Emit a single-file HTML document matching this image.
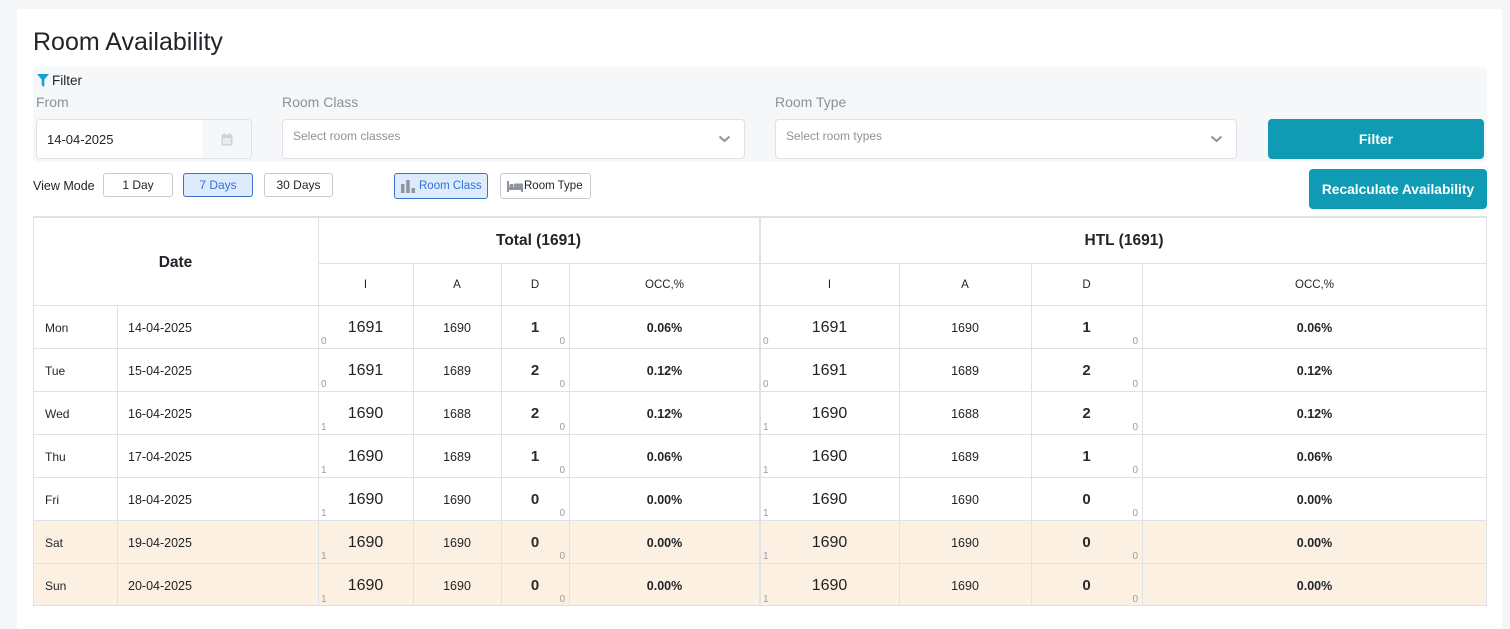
<!DOCTYPE html>
<html><head><meta charset="utf-8">
<style>
*{box-sizing:border-box}
body{margin:0;width:1510px;height:619px;background:#f5f6f8;position:relative;overflow:hidden;font-family:"Liberation Sans",Arial,sans-serif;color:#212529}
.a{position:absolute;white-space:nowrap}
.bx{position:absolute;display:flex;align-items:center;justify-content:center;white-space:nowrap}
.hl{position:absolute;height:1px;background:#dee2e6}
.vl{position:absolute;width:1px;background:#dee2e6}
.lbl{position:absolute;font-size:14px;line-height:20px;height:20px;color:#8c9196}
.btn{position:absolute;height:24px;top:173px;border:1px solid #c6cbd1;border-radius:3px;background:#fff;font-size:12px;display:flex;align-items:center;justify-content:center;color:#212529}
.teal{position:absolute;background:#109bb5;border-radius:4px;color:#fff;font-weight:bold;font-size:14px;display:flex;align-items:center;justify-content:center}
.row{position:absolute;left:0;width:1510px;height:43px}
.c{position:absolute;top:0;height:43px;display:flex;align-items:center;justify-content:center;white-space:nowrap}
.dy{left:33px;width:84px;justify-content:flex-start;padding-left:12px;font-size:12px}
.dt{left:117px;width:201px;justify-content:flex-start;padding-left:11px;font-size:12.5px}
.i1{left:318px;width:95px}.a1{left:413px;width:88px}.d1{left:501px;width:68px}.o1{left:569px;width:191px}
.i2{left:760px;width:139px}.a2{left:899px;width:132px}.d2{left:1031px;width:111px}.o2{left:1142px;width:345px}
.big{font-size:16px;color:#222}
.sm{font-size:12.5px}
.bd{font-size:15px;font-weight:bold;color:#2b2b2b}
.oc{font-size:12.5px;font-weight:bold}
.l,.r{position:absolute;font-size:10px;line-height:10px;bottom:2px;color:#999da1;font-weight:normal}
.l{left:3px}.r{right:4px}
.sh{position:absolute;top:263px;height:43px;display:flex;align-items:center;justify-content:center;font-size:11.5px}
</style></head><body>
<div class="a" style="left:17px;top:9px;width:1485px;height:620px;background:#fff"></div>

<div class="a" style="left:33px;top:27px;font-size:25px;line-height:30px;color:#212529">Room Availability</div>

<!-- filter panel -->
<div class="a" style="left:33px;top:67px;width:1454px;height:95px;background:#f6f7f9;border-radius:4px"></div>
<svg class="a" style="left:37px;top:74px" width="12" height="13" viewBox="0 0 12 13"><path d="M0 0H12L7.3 5.6V13L4.7 11.2V5.6Z" fill="#17a0d6"/></svg>
<div class="a" style="left:52px;top:71px;font-size:13.5px;line-height:20px;color:#212529">Filter</div>

<div class="lbl" style="left:36px;top:92px">From</div>
<div class="lbl" style="left:282px;top:92px">Room Class</div>
<div class="lbl" style="left:775px;top:92px">Room Type</div>

<!-- date input -->
<div class="a" style="left:36px;top:119px;width:216px;height:40px;border:1px solid #dee2e6;border-radius:4px;background:#f6f7f9;overflow:hidden">
  <div class="a" style="left:0;top:0;width:165px;height:38px;background:#fff"></div>
</div>
<div class="bx" style="left:47px;top:129px;height:20px;font-size:13px;color:#212529">14-04-2025</div>
<svg class="a" style="left:221px;top:133px" width="12" height="13" viewBox="0 0 12 13"><rect x="0.5" y="1.5" width="11" height="11" rx="1.5" fill="#cfd3d7"/><rect x="2" y="5" width="8" height="6" fill="#e9ebee"/><rect x="2.5" y="0" width="1.5" height="3" fill="#cfd3d7"/><rect x="8" y="0" width="1.5" height="3" fill="#cfd3d7"/></svg>

<!-- selects -->
<div class="a" style="left:282px;top:119px;width:463px;height:40px;border:1px solid #dee2e6;border-radius:4px;background:#fff"></div>
<div class="a" style="left:293px;top:126px;font-size:12px;line-height:20px;color:#8e9398">Select room classes</div>
<svg class="a" style="left:718px;top:135px" width="13" height="8" viewBox="0 0 13 8"><path d="M1.5 1.5L6.5 6L11.5 1.5" stroke="#8f959b" stroke-width="2" fill="none"/></svg>

<div class="a" style="left:775px;top:119px;width:462px;height:40px;border:1px solid #dee2e6;border-radius:4px;background:#fff"></div>
<div class="a" style="left:786px;top:126px;font-size:12px;line-height:20px;color:#8e9398">Select room types</div>
<svg class="a" style="left:1210px;top:135px" width="13" height="8" viewBox="0 0 13 8"><path d="M1.5 1.5L6.5 6L11.5 1.5" stroke="#8f959b" stroke-width="2" fill="none"/></svg>

<div class="teal" style="left:1268px;top:119px;width:216px;height:40px">Filter</div>

<!-- view mode -->
<div class="a" style="left:33px;top:176px;font-size:12.5px;line-height:20px;color:#212529">View Mode</div>
<div class="btn" style="left:103px;width:70px">1 Day</div>
<div class="btn" style="left:183px;width:70px;background:#deebfc;border-color:#3a72c8;color:#2f72de">7 Days</div>
<div class="btn" style="left:264px;width:69px">30 Days</div>

<div class="btn" style="left:394px;width:94px;height:26px;background:#deebfc;border-color:#3a72c8;color:#2f72de;justify-content:flex-start;padding-left:6px;font-size:11.5px">
<svg width="14" height="13" viewBox="0 0 14 13" style="margin-right:4px"><rect x="0" y="4" width="3.5" height="9" fill="#8e959c"/><rect x="5.2" y="0" width="3.5" height="13" fill="#8e959c"/><rect x="10.5" y="8" width="3.5" height="5" fill="#8e959c"/></svg>Room Class</div>
<div class="btn" style="left:500px;width:91px;height:26px;justify-content:flex-start;padding-left:6px;font-size:11.5px">
<svg width="16" height="11" viewBox="0 0 16 11" style="margin-right:1px"><rect x="0" y="0" width="2" height="11" fill="#8e959c"/><rect x="0" y="6" width="16" height="3" fill="#8e959c"/><rect x="2.5" y="3" width="4" height="3" rx="1" fill="#8e959c"/><rect x="7" y="2.5" width="9" height="3.5" rx="1" fill="#8e959c"/><rect x="14" y="6" width="2" height="5" fill="#8e959c"/></svg>Room Type</div>

<div class="teal" style="left:1309px;top:169px;width:178px;height:40px;font-size:13.8px">Recalculate Availability</div>

<!-- table background for weekends -->
<div class="a" style="left:33px;top:520px;width:1454px;height:86px;background:#fcf0e2"></div>

<!-- grid lines -->
<div class="hl" style="left:33px;top:216px;width:1454px;height:2px"></div>
<div class="hl" style="left:318px;top:263px;width:1169px"></div>
<div class="hl" style="left:33px;top:305px;width:1454px"></div>
<div class="hl" style="left:33px;top:348px;width:1454px"></div>
<div class="hl" style="left:33px;top:391px;width:1454px"></div>
<div class="hl" style="left:33px;top:434px;width:1454px"></div>
<div class="hl" style="left:33px;top:477px;width:1454px"></div>
<div class="hl" style="left:33px;top:520px;width:1454px"></div>
<div class="hl" style="left:33px;top:563px;width:1454px"></div>
<div class="hl" style="left:33px;top:605px;width:1454px"></div>

<div class="vl" style="left:33px;top:216px;height:390px"></div>
<div class="vl" style="left:117px;top:305px;height:301px"></div>
<div class="vl" style="left:318px;top:216px;height:390px"></div>
<div class="vl" style="left:413px;top:263px;height:343px"></div>
<div class="vl" style="left:501px;top:263px;height:343px"></div>
<div class="vl" style="left:569px;top:263px;height:343px"></div>
<div class="vl" style="left:759px;top:216px;height:390px;width:2px"></div>
<div class="vl" style="left:899px;top:263px;height:343px"></div>
<div class="vl" style="left:1031px;top:263px;height:343px"></div>
<div class="vl" style="left:1142px;top:263px;height:343px"></div>
<div class="vl" style="left:1486px;top:216px;height:390px"></div>

<!-- headers -->
<div class="bx" style="left:33px;top:219px;width:285px;height:88px;font-size:15.5px;font-weight:bold">Date</div>
<div class="bx" style="left:318px;top:218px;width:441px;height:45px;font-size:15.5px;font-weight:bold">Total (1691)</div>
<div class="bx" style="left:761px;top:218px;width:726px;height:45px;font-size:15.5px;font-weight:bold">HTL (1691)</div>

<div class="sh" style="left:318px;width:95px">I</div>
<div class="sh" style="left:413px;width:88px">A</div>
<div class="sh" style="left:501px;width:68px">D</div>
<div class="sh" style="left:569px;width:191px">OCC,%</div>
<div class="sh" style="left:760px;width:139px">I</div>
<div class="sh" style="left:899px;width:132px">A</div>
<div class="sh" style="left:1031px;width:111px">D</div>
<div class="sh" style="left:1142px;width:345px">OCC,%</div>

<!-- rows -->
<div class="row" style="top:306px">
<div class="c dy">Mon</div><div class="c dt">14-04-2025</div>
<div class="c i1 big">1691<span class="l">0</span></div><div class="c a1 sm">1690</div><div class="c d1 bd">1<span class="r">0</span></div><div class="c o1 oc">0.06%</div>
<div class="c i2 big">1691<span class="l">0</span></div><div class="c a2 sm">1690</div><div class="c d2 bd">1<span class="r">0</span></div><div class="c o2 oc">0.06%</div>
</div>
<div class="row" style="top:349px">
<div class="c dy">Tue</div><div class="c dt">15-04-2025</div>
<div class="c i1 big">1691<span class="l">0</span></div><div class="c a1 sm">1689</div><div class="c d1 bd">2<span class="r">0</span></div><div class="c o1 oc">0.12%</div>
<div class="c i2 big">1691<span class="l">0</span></div><div class="c a2 sm">1689</div><div class="c d2 bd">2<span class="r">0</span></div><div class="c o2 oc">0.12%</div>
</div>
<div class="row" style="top:392px">
<div class="c dy">Wed</div><div class="c dt">16-04-2025</div>
<div class="c i1 big">1690<span class="l">1</span></div><div class="c a1 sm">1688</div><div class="c d1 bd">2<span class="r">0</span></div><div class="c o1 oc">0.12%</div>
<div class="c i2 big">1690<span class="l">1</span></div><div class="c a2 sm">1688</div><div class="c d2 bd">2<span class="r">0</span></div><div class="c o2 oc">0.12%</div>
</div>
<div class="row" style="top:435px">
<div class="c dy">Thu</div><div class="c dt">17-04-2025</div>
<div class="c i1 big">1690<span class="l">1</span></div><div class="c a1 sm">1689</div><div class="c d1 bd">1<span class="r">0</span></div><div class="c o1 oc">0.06%</div>
<div class="c i2 big">1690<span class="l">1</span></div><div class="c a2 sm">1689</div><div class="c d2 bd">1<span class="r">0</span></div><div class="c o2 oc">0.06%</div>
</div>
<div class="row" style="top:478px">
<div class="c dy">Fri</div><div class="c dt">18-04-2025</div>
<div class="c i1 big">1690<span class="l">1</span></div><div class="c a1 sm">1690</div><div class="c d1 bd">0<span class="r">0</span></div><div class="c o1 oc">0.00%</div>
<div class="c i2 big">1690<span class="l">1</span></div><div class="c a2 sm">1690</div><div class="c d2 bd">0<span class="r">0</span></div><div class="c o2 oc">0.00%</div>
</div>
<div class="row" style="top:521px">
<div class="c dy">Sat</div><div class="c dt">19-04-2025</div>
<div class="c i1 big">1690<span class="l">1</span></div><div class="c a1 sm">1690</div><div class="c d1 bd">0<span class="r">0</span></div><div class="c o1 oc">0.00%</div>
<div class="c i2 big">1690<span class="l">1</span></div><div class="c a2 sm">1690</div><div class="c d2 bd">0<span class="r">0</span></div><div class="c o2 oc">0.00%</div>
</div>
<div class="row" style="top:564px">
<div class="c dy">Sun</div><div class="c dt">20-04-2025</div>
<div class="c i1 big">1690<span class="l">1</span></div><div class="c a1 sm">1690</div><div class="c d1 bd">0<span class="r">0</span></div><div class="c o1 oc">0.00%</div>
<div class="c i2 big">1690<span class="l">1</span></div><div class="c a2 sm">1690</div><div class="c d2 bd">0<span class="r">0</span></div><div class="c o2 oc">0.00%</div>
</div>
</body></html>
